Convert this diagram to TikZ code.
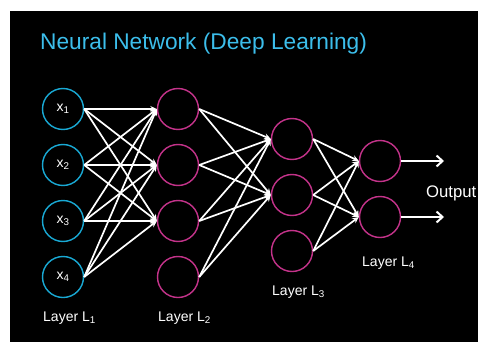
\documentclass[tikz,border=0pt]{standalone}
\usepackage{fontspec}
\setmainfont{Liberation Sans}
\usetikzlibrary{arrows.meta}
\definecolor{inputcol}{HTML}{19A9D4}
\definecolor{hiddencol}{HTML}{C4338A}
\definecolor{titlecol}{HTML}{3CBEEB}
\begin{document}
\begin{tikzpicture}[x=1pt,y=-1pt,
  neuron/.style={circle, draw, line width=1.4pt, minimum size=41pt, inner sep=0pt, text=white, font=\fontsize{14}{14}\selectfont},
  inneuron/.style={neuron, draw=inputcol},
  hidneuron/.style={neuron, draw=hiddencol},
  link/.style={draw=white, line width=1.7pt, -{Stealth[length=6.5pt,width=6pt]}},
  outlink/.style={draw=white, line width=2pt, -{Straight Barb[length=6pt,width=11pt,line width=2pt]}},
  layerlabel/.style={anchor=base west, inner sep=0pt, text=white, font=\fontsize{14}{14}\selectfont}
]
% page and black panel
\useasboundingbox (0,0) rectangle (478,342);
\fill[white] (0,0) rectangle (478,342);
\fill[black] (10,11) rectangle (478,342);

% title
\node[anchor=base west, inner sep=0pt, text=titlecol, font=\fontsize{22.7}{22.7}\selectfont] (title) at (40,50) {Neural Network (Deep Learning)};

% layer 1 (inputs)
\foreach \i/\y in {1/109,2/165,3/221,4/277}
  \node[inneuron] (a\i) at (63,\y) {x\textsubscript{\i}};
% layer 2
\foreach \i/\y in {1/109,2/165,3/221,4/277}
  \node[hidneuron] (b\i) at (178,\y) {};
% layer 3
\foreach \i/\y in {1/139,2/195,3/251}
  \node[hidneuron] (c\i) at (292,\y) {};
% layer 4
\foreach \i/\y in {1/161,2/217}
  \node[hidneuron] (d\i) at (380,\y) {};

% connections
\foreach \s in {1,2,3,4}
  \foreach \t in {1,2,3}
    \draw[link] (a\s.east) -- (b\t.west);
\foreach \s in {1,2,3,4}
  \foreach \t in {1,2}
    \draw[link] (b\s.east) -- (c\t.west);
\foreach \s in {1,2,3}
  \foreach \t in {1,2}
    \draw[link] (c\s.east) -- (d\t.west);

% outputs
\coordinate (o1) at (444,161);
\coordinate (o2) at (444,217);
\draw[outlink] (d1.east) -- (o1);
\draw[outlink] (d2.east) -- (o2);
\node[anchor=base west, inner sep=0pt, text=white, font=\fontsize{16.7}{16.7}\selectfont] (outtxt) at (426,197) {Output};

% layer labels
\node[layerlabel] (l1) at (43,321) {Layer L\textsubscript{1}};
\node[layerlabel] (l2) at (158,321) {Layer L\textsubscript{2}};
\node[layerlabel] (l3) at (272,295) {Layer L\textsubscript{3}};
\node[layerlabel] (l4) at (362,266) {Layer L\textsubscript{4}};
\end{tikzpicture}
\end{document}
